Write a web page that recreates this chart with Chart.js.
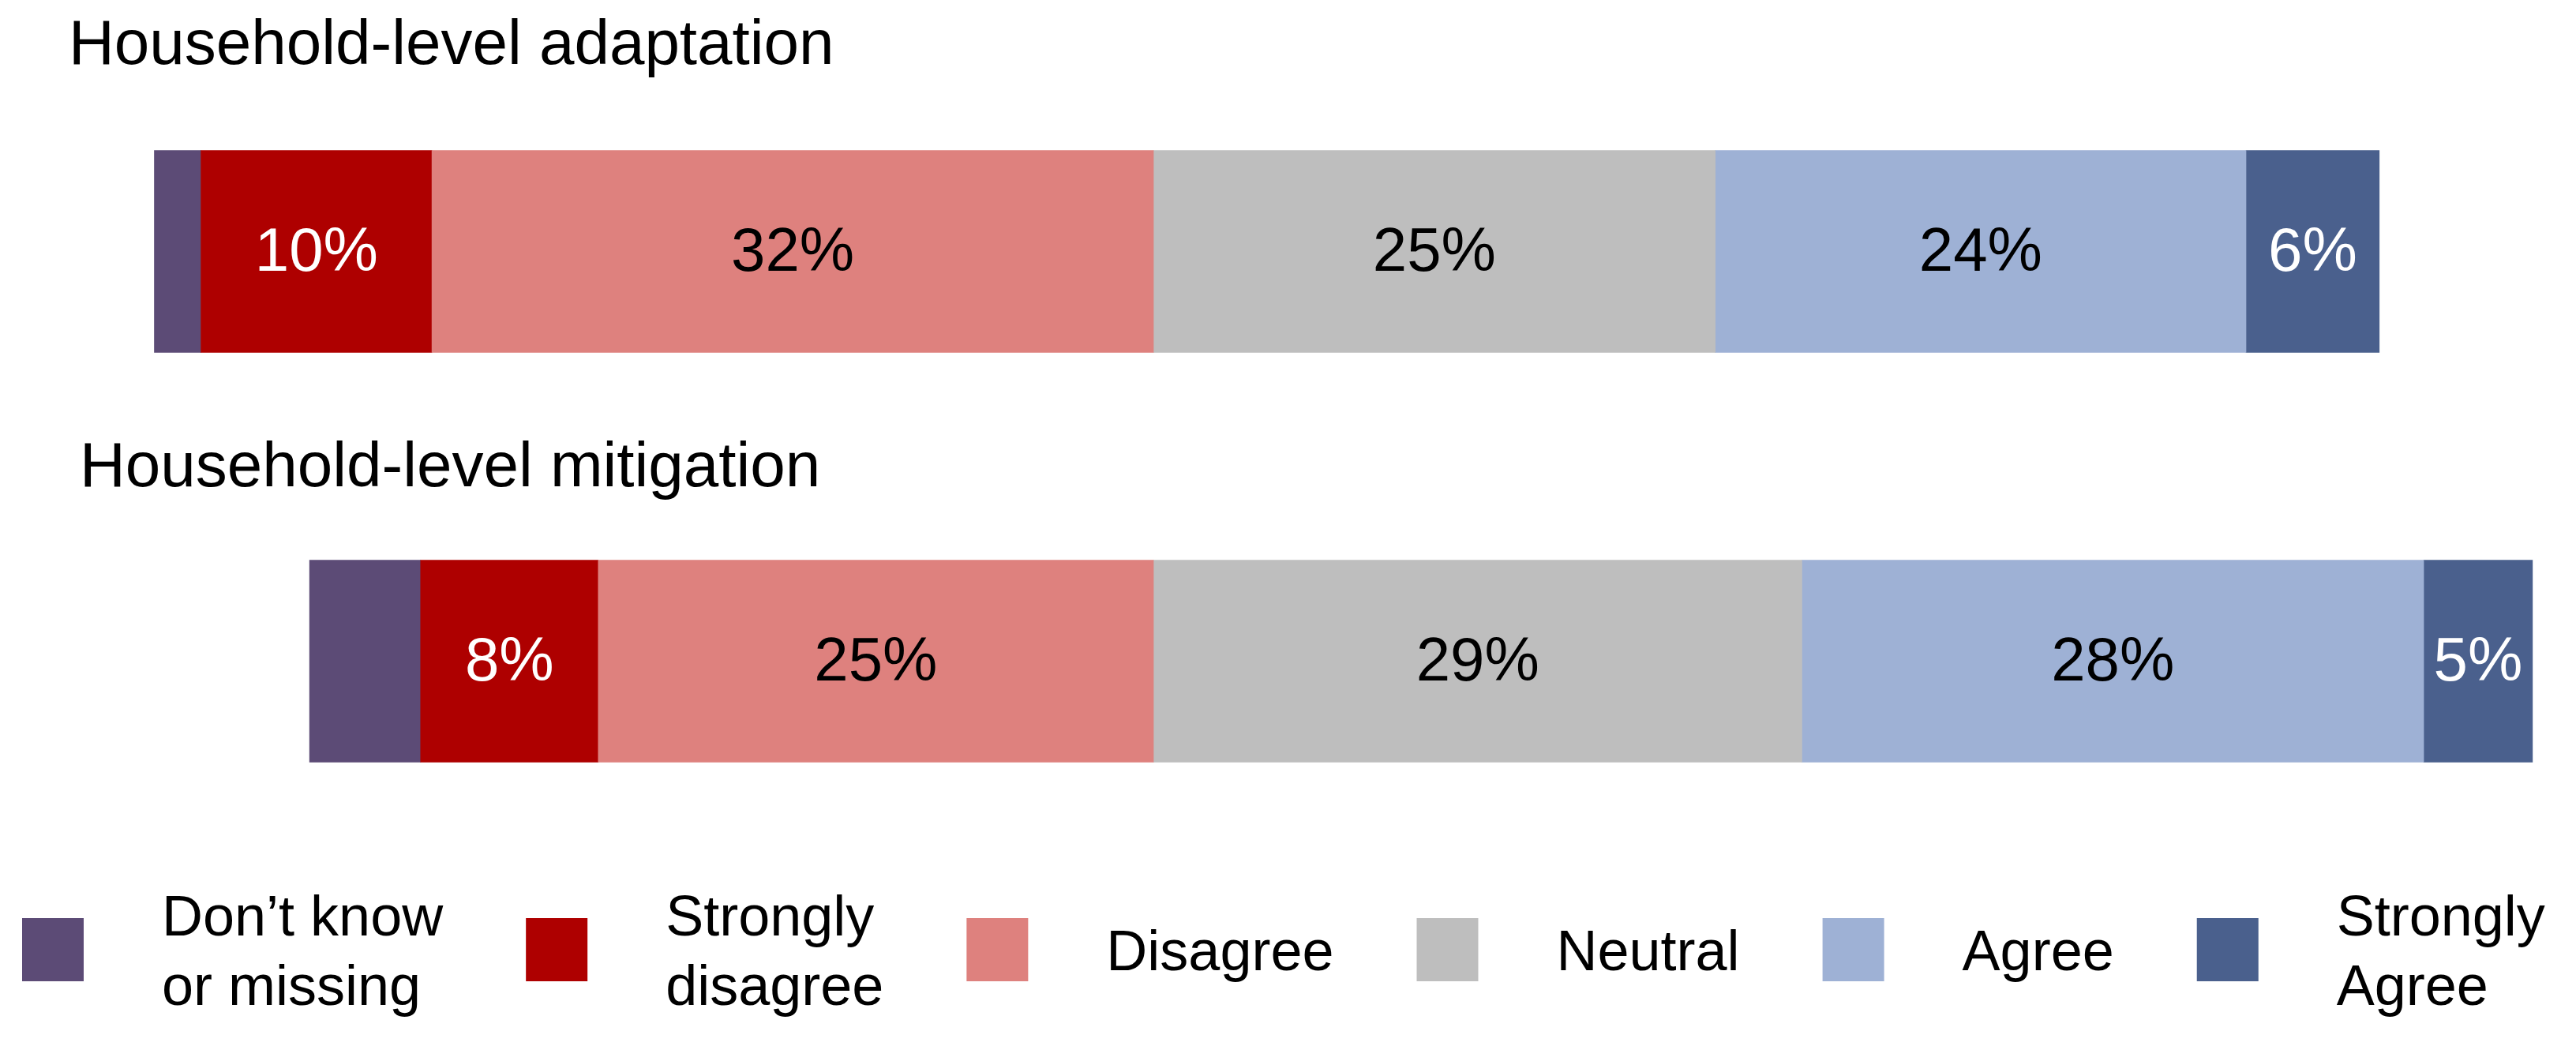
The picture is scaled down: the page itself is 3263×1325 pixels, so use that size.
<!DOCTYPE html>
<html>
<head>
<meta charset="utf-8">
<script src="https://cdn.jsdelivr.net/npm/chart.js@4.4.1/dist/chart.umd.min.js"></script>
<style>
html,body{margin:0;padding:0;background:#ffffff;overflow:hidden}
#wrap{width:3263px;height:1325px;position:relative}
</style>
</head>
<body>
<div id="wrap"><canvas id="c" width="3263" height="1325"></canvas></div>
<script>
// ---- data (percent of respondents) ----
const categories = ['Household-level adaptation', 'Household-level mitigation'];
const seriesNames = ['Don’t know or missing', 'Strongly disagree', 'Disagree', 'Neutral', 'Agree', 'Strongly Agree'];
const legendLines = [['Don’t know', 'or missing'], ['Strongly', 'disagree'], ['Disagree'], ['Neutral'], ['Agree'], ['Strongly', 'Agree']];
const dontKnow         = [2.1, 5.0];
const stronglyDisagree = [10.4, 8.0];
const disagree         = [32.49, 25.0];
const neutral          = [25.3, 29.2];
const agree            = [23.9, 28.0];
const stronglyAgree    = [6.0, 4.9];

// ---- styles ----
const FONT = '"Liberation Sans", Arial, Helvetica, sans-serif';
const seriesColors = ['#5C4B76', '#AE0000', '#DE817E', '#BEBEBE', '#9EB1D5', '#4A608D'];
const labelColors  = [null, '#FFFFFF', '#000000', '#000000', '#000000', '#FFFFFF'];

// disagree side is drawn to the left of zero (negative), agree side to the right
const seriesValues = [dontKnow, stronglyDisagree, disagree, neutral, agree, stronglyAgree];
const negativeSide = [true, true, true, false, false, false];
// stacking order: nearest to the zero line first
const stackOrder = [2, 1, 0, 3, 4, 5];

const datasets = stackOrder.map(i => ({
  label: seriesNames[i],
  data: seriesValues[i].map(v => negativeSide[i] ? -v : v),
  backgroundColor: seriesColors[i],
  borderWidth: 0,
  barThickness: 256,
  seriesIndex: i
}));

const titleLayout = [{x: 87, dy: -237.5}, {x: 101, dy: -221.5}];

const titlesPlugin = {
  id: 'catTitles',
  afterDraw(chart) {
    const ctx = chart.ctx, ys = chart.scales.y;
    ctx.save();
    ctx.font = '80px ' + FONT;
    ctx.fillStyle = '#000000';
    ctx.textAlign = 'left';
    ctx.textBaseline = 'alphabetic';
    categories.forEach((c, i) => {
      const yc = ys.getPixelForValue(i);
      ctx.fillText(c, titleLayout[i].x, yc + titleLayout[i].dy);
    });
    ctx.restore();
  }
};

const valueLabelPlugin = {
  id: 'valueLabels',
  afterDatasetsDraw(chart) {
    const ctx = chart.ctx;
    ctx.save();
    ctx.font = '78px ' + FONT;
    ctx.textAlign = 'center';
    ctx.textBaseline = 'alphabetic';
    chart.data.datasets.forEach((ds, di) => {
      const col = labelColors[ds.seriesIndex];
      if (!col) return;
      const meta = chart.getDatasetMeta(di);
      meta.data.forEach((el, k) => {
        const v = Math.abs(ds.data[k]);
        const cx = (el.x + el.base) / 2;
        ctx.fillStyle = col;
        ctx.fillText(Math.round(v) + '%', cx, el.y + 24);
      });
    });
    ctx.restore();
  }
};

const legendPlugin = {
  id: 'customLegend',
  afterDraw(chart) {
    const ctx = chart.ctx;
    ctx.save();
    ctx.font = '72px ' + FONT;
    ctx.textAlign = 'left';
    ctx.textBaseline = 'alphabetic';
    const boxW = 78, boxH = 80, boxTop = 1163, centerY = boxTop + boxH / 2;
    const lineH = 88;
    let x = 28;
    seriesNames.forEach((name, i) => {
      ctx.fillStyle = seriesColors[i];
      ctx.fillRect(x, boxTop, boxW, boxH);
      const lines = legendLines[i];
      const tx = x + 177;
      ctx.fillStyle = '#000000';
      let maxW = 0;
      lines.forEach((ln, j) => {
        const by = centerY + 26 + (j - (lines.length - 1) / 2) * lineH;
        ctx.fillText(ln, tx, by);
        maxW = Math.max(maxW, ctx.measureText(ln).width);
      });
      x = tx + maxW + 105;
    });
    ctx.restore();
  }
};

new Chart(document.getElementById('c'), {
  type: 'bar',
  data: { labels: categories, datasets: datasets },
  options: {
    indexAxis: 'y',
    responsive: false,
    animation: false,
    devicePixelRatio: 1,
    layout: { padding: { top: 59, bottom: 228, left: 0, right: 0 } },
    plugins: { legend: { display: false }, tooltip: { enabled: false } },
    scales: {
      x: { stacked: true, min: -51.94, max: 64.06, display: false },
      y: { stacked: true, display: false }
    }
  },
  plugins: [titlesPlugin, valueLabelPlugin, legendPlugin]
});
</script>
</body>
</html>
